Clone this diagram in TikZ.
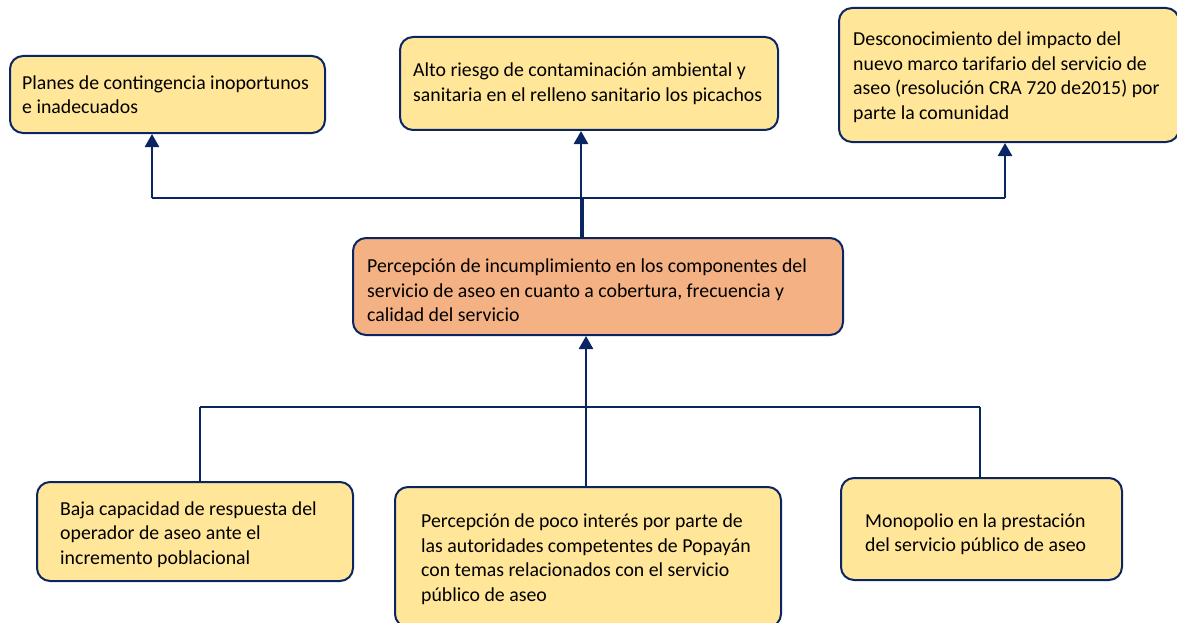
\documentclass[tikz,border=0pt]{standalone}
\usepackage{fontspec}
\setmainfont{Carlito}
\usetikzlibrary{arrows.meta}
\definecolor{navy}{HTML}{0B2563}
\definecolor{boxyellow}{HTML}{FFE699}
\definecolor{boxorange}{HTML}{F4B183}
\begin{document}
\begin{tikzpicture}[x=1pt,y=-1pt,
  box/.style={draw=navy, line width=2pt, rounded corners=13pt, fill=boxyellow, anchor=north west, inner sep=0pt},
  txt/.style={align=left, anchor=west, inner sep=0pt, font=\fontsize{19.8}{24.5}\selectfont, text=black},
  conn/.style={draw=navy, line width=2.6pt},
  arr/.style={conn, -{Triangle[width=14pt,length=13pt]}}]
\useasboundingbox (0,0) rectangle (1177,623);
% top boxes
\node[box, minimum width=315, minimum height=77] (p1) at (9,55) {};
\node[txt] (p1t) at ([xshift=13]p1.west) {Planes de contingencia inoportunos\\e inadecuados};
\node[box, minimum width=378, minimum height=93] (p2) at (399,36) {};
\node[txt] (p2t) at ([xshift=14]p2.west) {Alto riesgo de contaminación ambiental y\\sanitaria en el relleno sanitario los picachos};
\node[box, minimum width=340, minimum height=134] (p3) at (838,7) {};
\node[txt] (p3t) at ([xshift=15,yshift=-2]p3.west) {Desconocimiento del impacto del\\nuevo marco tarifario del servicio de\\aseo (resolución CRA 720 de2015) por\\parte la comunidad};
% central box
\node[box, fill=boxorange, minimum width=490, minimum height=97] (c) at (352,237) {};
\node[txt] (ct) at ([xshift=15,yshift=-4]c.west) {Percepción de incumplimiento en los componentes del\\servicio de aseo en cuanto a cobertura, frecuencia y\\calidad del servicio};
% bottom boxes
\node[box, minimum width=316, minimum height=99] (b1) at (36,481) {};
\node[txt] (b1t) at ([xshift=24,yshift=-3]b1.west) {Baja capacidad de respuesta del\\operador de aseo ante el\\incremento poblacional};
\node[box, minimum width=386, minimum height=140] (b2) at (394,486) {};
\node[txt] (b2t) at ([xshift=27,yshift=-2]b2.west) {Percepción de poco interés por parte de\\las autoridades competentes de Popayán\\con temas relacionados con el servicio\\público de aseo};
\node[box, minimum width=281, minimum height=102] (b3) at (840,477) {};
\node[txt] (b3t) at ([xshift=25,yshift=-5]b3.west) {Monopolio en la prestación\\del servicio público de aseo};
% top connectors
\coordinate (tl) at (152,198);
\coordinate (tm) at (583,198);
\coordinate (tr) at (1005,198);
\draw[conn] (c.north -| tm) -- (tm);
\draw[conn] (tl) -- (tr);
\draw[arr] (tl) -- (tl |- p1.south);
\draw[arr] (tr) -- (tr |- p3.south);
\coordinate (am) at (581,237);
\draw[arr] (am) -- (am |- p2.south);
% bottom connectors
\coordinate (bl) at (200,407);
\coordinate (br) at (980,407);
\coordinate (bm) at (586,486);
\draw[conn] (bl) -- (br);
\draw[conn] (bl) -- (bl |- b1.north);
\draw[conn] (br) -- (br |- b3.north);
\draw[arr] (bm) -- (bm |- c.south);
\end{tikzpicture}
\end{document}
